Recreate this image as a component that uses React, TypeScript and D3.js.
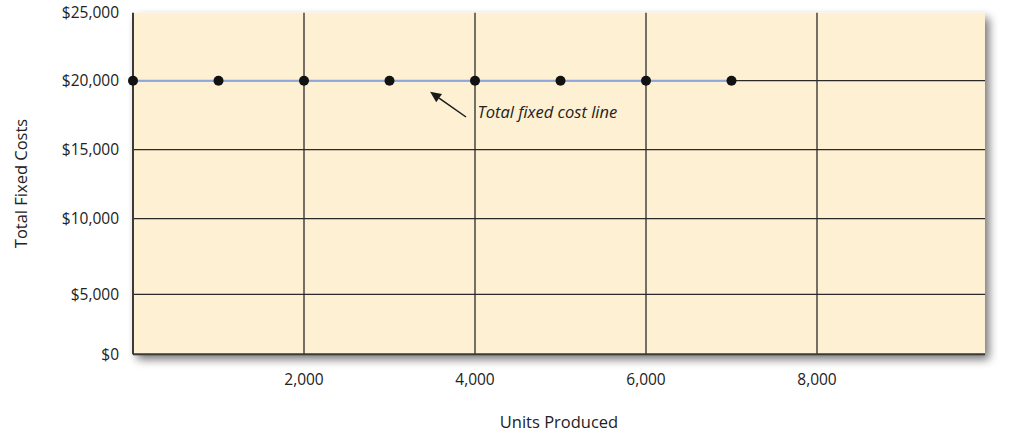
import React from "react";
import * as d3 from "d3";

const units = [0, 1000, 2000, 3000, 4000, 5000, 6000, 7000];
const fixedCosts = [20000, 20000, 20000, 20000, 20000, 20000, 20000, 20000];
const xTicks = [2000, 4000, 6000, 8000];
const yTicks = [0, 5000, 10000, 15000, 20000, 25000];
const xLabel = "Units Produced";
const yLabel = "Total Fixed Costs";
const annotation = "Total fixed cost line";

const W = 1033;
const H = 432;
const left = 133;
const right = 985;
const top = 12.7;
const bottom = 354.3;

export default function App() {
  const x = d3.scaleLinear().domain([0, 10000]).range([left, left + 5 * 171]);
  // piecewise to follow the reference's uneven grid spacing
  const y = d3
    .scaleLinear()
    .domain([0, 5000, 10000, 15000, 20000, 25000])
    .range([bottom, 294.3, 218.7, 149.7, 80.7, top]);
  const fmt = d3.format(",");
  const line = d3
    .line<number>()
    .x((d) => x(d))
    .y((_, i) => y(fixedCosts[i]));
  const font = "'Open Sans', 'Noto Sans', sans-serif";

  const tip = { x: x(3475), y: y(19200) };
  const tail = { x: x(3895), y: y(17370) };
  const ang = Math.atan2(tip.y - tail.y, tip.x - tail.x);
  const ah = 11;
  const aw = 5;
  const bx = tip.x - ah * Math.cos(ang);
  const by = tip.y - ah * Math.sin(ang);
  const head = [
    [tip.x, tip.y],
    [bx + aw * Math.sin(ang), by - aw * Math.cos(ang)],
    [bx - aw * Math.sin(ang), by + aw * Math.cos(ang)],
  ];

  return (
    <svg width={W} height={H} style={{ position: "absolute", left: 0, top: 0, background: "#fff" }}>
      <defs>
        <filter id="sh" x="-5%" y="-10%" width="112%" height="125%">
          <feGaussianBlur in="SourceAlpha" stdDeviation="5" />
          <feOffset dx="4" dy="5" result="b" />
          <feComponentTransfer>
            <feFuncA type="linear" slope="0.55" />
          </feComponentTransfer>
          <feMerge>
            <feMergeNode />
            <feMergeNode in="SourceGraphic" />
          </feMerge>
        </filter>
      </defs>
      <rect
        x={left}
        y={top}
        width={right - left}
        height={bottom - top}
        fill="#fdf0d3"
        filter="url(#sh)"
      />
      {yTicks.slice(1, -1).map((t) => (
        <line key={"gy" + t} x1={left} x2={right} y1={y(t)} y2={y(t)} stroke="#2a2a2a" strokeWidth={1.3} />
      ))}
      {xTicks.map((t) => (
        <line key={"gx" + t} x1={x(t)} x2={x(t)} y1={top} y2={bottom} stroke="#2a2a2a" strokeWidth={1.3} />
      ))}
      <line x1={left} x2={left} y1={top} y2={bottom} stroke="#3a3a3a" strokeWidth={2} />
      <line x1={left} x2={right} y1={bottom} y2={bottom} stroke="#3a3a3a" strokeWidth={2} />
      <path d={line(units) || ""} fill="none" stroke="#8ea6d8" strokeWidth={2} />
      {units.map((u, i) => (
        <circle key={"p" + u} cx={x(u)} cy={y(fixedCosts[i])} r={5} fill="#121212" />
      ))}
      <line x1={tail.x} y1={tail.y} x2={bx} y2={by} stroke="#1a1a1a" strokeWidth={1.5} />
      <polygon points={head.map((p) => p.join(",")).join(" ")} fill="#1a1a1a" />
      <text x={x(4030)} y={y(17300)} fontFamily={font} fontStyle="italic" fontSize={16.5} fill="#222">
        {annotation}
      </text>
      {yTicks.map((t) => (
        <text key={"ty" + t} x={119} y={y(t)} dy="0.35em" textAnchor="end" fontFamily={font} fontSize={15.5} fill="#222">
          {"$" + fmt(t)}
        </text>
      ))}
      {xTicks.map((t) => (
        <text key={"tx" + t} x={x(t)} y={385} textAnchor="middle" fontFamily={font} fontSize={15.5} fill="#222">
          {fmt(t)}
        </text>
      ))}
      <text x={559} y={428} textAnchor="middle" fontFamily={font} fontSize={16.5} fill="#222">
        {xLabel}
      </text>
      <text
        transform={`translate(27,${(top + bottom) / 2}) rotate(-90)`}
        textAnchor="middle"
        fontFamily={font}
        fontSize={16.5}
        fill="#222"
      >
        {yLabel}
      </text>
    </svg>
  );
}
